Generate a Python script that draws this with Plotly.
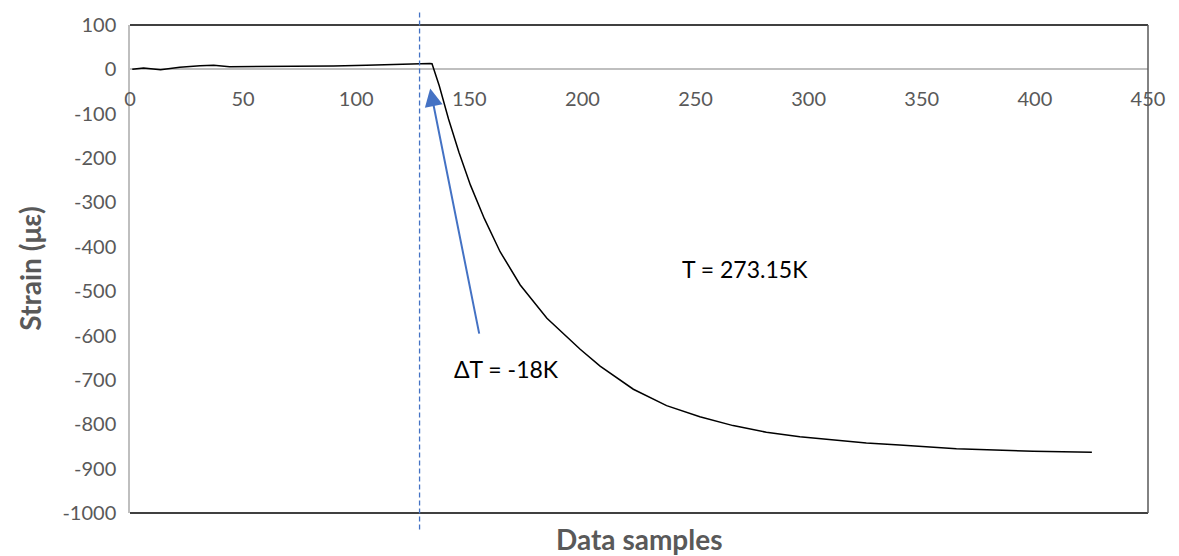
import plotly.graph_objects as go

# Data
samples = [1, 6, 13.5, 22, 31, 37, 44, 60.5, 75, 90, 104.5, 119.5, 132.5,
           133.5, 136.7, 140.8, 145.4, 150.5, 156.6, 163.6, 172.5, 184.3, 199,
           207.8, 222.5, 237.2, 251.9, 266.6, 281.3, 296.1, 310.8, 325.5, 340.2,
           365.3, 399.2, 425.2]
strain = [0, 3, -1, 5, 8, 9, 6, 6, 7, 7.5, 9, 12, 13.4,
          12.8, -37, -112, -187, -261, -336, -411, -486, -561, -631,
          -669, -721, -758, -783, -803, -818, -828, -835, -842, -847,
          -855, -861, -863]

x_ticks = [0, 50, 100, 150, 200, 250, 300, 350, 400, 450]
y_ticks = [100, 0, -100, -200, -300, -400, -500, -600, -700, -800, -900, -1000]
y_tick_text = [str(v) for v in y_ticks]  # plain hyphen minus, as in reference

step_sample = 128
arrow_tip = (132.7, -43)
arrow_tail = (154.5, -599)
label_dT = "\u0394T = -18K"
label_dT_pos = (142.5, -675)
label_T = "T = 273.15K"
label_T_pos = (272, -451)

FONT = "Lato"
GRAY = "#595959"
BLUE = "#4472C4"

fig = go.Figure()
fig.add_trace(go.Scatter(x=samples, y=strain, mode="lines",
                         line=dict(color="black", width=1.5), showlegend=False,
                         hoverinfo="skip"))

fig.update_layout(
    width=1179, height=556,
    margin=dict(l=129.5, r=30.7, t=22.7, b=42.7),
    paper_bgcolor="white", plot_bgcolor="white",
    font=dict(family=FONT, color=GRAY, size=20),
    xaxis=dict(range=[0, 450], tickvals=x_ticks, showgrid=False, zeroline=False,
               showline=False, anchor="free", position=(1000 / 1100), side="bottom",
               ticks="outside", ticklen=12, tickcolor="rgba(0,0,0,0)",
               tickfont=dict(family=FONT, size=20, color=GRAY)),
    yaxis=dict(range=[-1000, 100], tickvals=y_ticks, ticktext=y_tick_text,
               showgrid=False,
               zeroline=True, zerolinecolor="#BFBFBF", zerolinewidth=1.5,
               showline=True, linecolor="#BFBFBF", linewidth=1.5,
               ticks="outside", ticklen=8, tickcolor="rgba(0,0,0,0)",
               tickfont=dict(family=FONT, size=20, color=GRAY)),
)

# plot frame: top and bottom black, right dark gray
fig.add_shape(type="line", xref="paper", yref="paper", x0=0, x1=1, y0=1, y1=1,
              line=dict(color="black", width=1.5))
fig.add_shape(type="line", xref="paper", yref="paper", x0=0, x1=1, y0=0, y1=0,
              line=dict(color="black", width=1.5))
fig.add_shape(type="line", xref="paper", yref="paper", x0=1, x1=1, y0=0, y1=1,
              line=dict(color=GRAY, width=1.5))

# dashed vertical marker
fig.add_shape(type="line", xref="x", yref="paper", x0=step_sample, x1=step_sample,
              y0=-0.034, y1=1.026, line=dict(color=BLUE, width=1.3, dash="5px,3px"))

# arrow
fig.add_annotation(x=arrow_tip[0], y=arrow_tip[1], ax=arrow_tail[0], ay=arrow_tail[1],
                   xref="x", yref="y", axref="x", ayref="y", text="",
                   showarrow=True, arrowhead=2, arrowsize=1.8, arrowwidth=2,
                   arrowcolor=BLUE)

fig.add_annotation(x=label_dT_pos[0], y=label_dT_pos[1], xref="x", yref="y",
                   text=label_dT, showarrow=False, xanchor="left",
                   font=dict(family=FONT, size=23, color="black"))
fig.add_annotation(x=label_T_pos[0], y=label_T_pos[1], xref="x", yref="y",
                   text=label_T, showarrow=False, xanchor="center",
                   font=dict(family=FONT, size=23, color="black"))

# axis titles
fig.add_annotation(x=0.5, y=-0.054, xref="paper", yref="paper",
                   xanchor="center", yanchor="middle",
                   text="<b>Data samples</b>", showarrow=False,
                   font=dict(family=FONT, size=28, color=GRAY))
fig.add_annotation(x=-0.0986, y=0.5, xref="paper", yref="paper",
                   xanchor="center", yanchor="middle",
                   text="<b>Strain (\u03bc\u03b5)</b>", showarrow=False, textangle=-90,
                   font=dict(family=FONT, size=28, color=GRAY))

fig.write_html("out.html", config={"displayModeBar": False},
               post_script="document.body.style.margin='0px';document.body.style.overflow='hidden';")
